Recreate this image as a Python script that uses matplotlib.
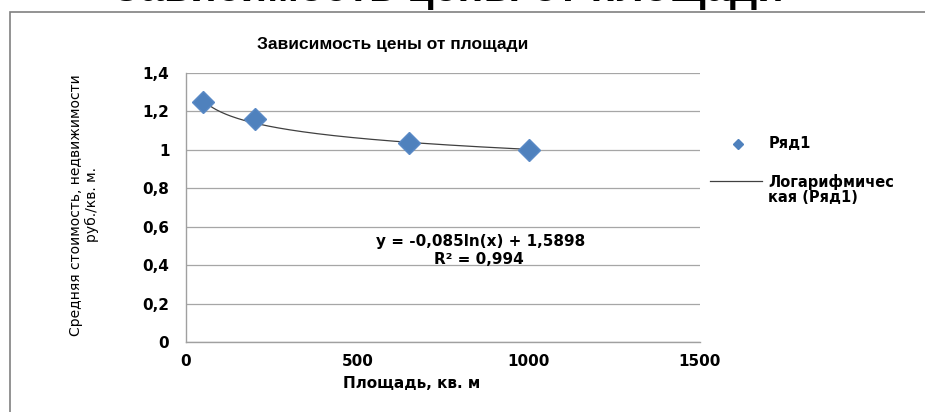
import matplotlib
matplotlib.use("Agg")
import matplotlib.pyplot as plt
import numpy as np
from matplotlib.lines import Line2D
from matplotlib.patches import Rectangle

# average price per square metre vs. area
area = [50, 200, 650, 1000]
price = [1.25, 1.16, 1.035, 1.0]

# logarithmic trend coefficients
slope = -0.085
intercept = 1.5898
r2 = 0.994

x_ticks = [0, 500, 1000, 1500]
y_ticks = [0, 0.2, 0.4, 0.6, 0.8, 1.0, 1.2, 1.4]
y_tick_labels = ["0", "0,2", "0,4", "0,6", "0,8", "1", "1,2", "1,4"]

blue = "#4F81BD"
W, H = 925, 412

fig = plt.figure(figsize=(W / 100, H / 100), dpi=100)
fig.patch.set_facecolor("white")

# chart frame
fig.patches.append(Rectangle((10 / W, -0.05), 1.0, (H - 12) / H + 0.05,
                             transform=fig.transFigure, fill=False,
                             edgecolor="#808080", lw=1.2))

# heading of the page above the chart, mostly cut off
fig.text(448 / W, 1 - 1 / H, "Зависимость цены от площади", ha="center",
         va="baseline", fontsize=31, fontweight="bold", family="Liberation Sans")

ax = fig.add_axes([186 / W, 1 - 342 / H, (700 - 186) / W, (342 - 73) / H])
ax.set_xlim(0, 1500)
ax.set_ylim(0, 1.4)

for s in ["top", "right"]:
    ax.spines[s].set_visible(False)
for s in ["left", "bottom"]:
    ax.spines[s].set_color("#A0A0A0")
    ax.spines[s].set_linewidth(1.0)

ax.set_yticks(y_ticks)
ax.set_yticklabels(y_tick_labels)
ax.set_xticks(x_ticks)
ax.tick_params(length=0, labelsize=11)
ax.tick_params(axis="x", pad=9)
ax.tick_params(axis="y", pad=12)
for lab in ax.get_xticklabels() + ax.get_yticklabels():
    lab.set_fontweight("bold")
    lab.set_family("DejaVu Sans")
ax.grid(axis="y", color="#A6A6A6", lw=0.9)
ax.set_axisbelow(True)

# fitted logarithmic curve over the data range
xs = np.linspace(min(area), max(area), 200)
ax.plot(xs, slope * np.log(xs) + intercept, color="#404040", lw=0.9, zorder=2)
ax.plot(area, price, ls="none", marker="D", ms=11, color=blue,
        markeredgecolor="#5A8AC6", zorder=3)

eq = f"y = {slope:.3f}ln(x) + {intercept:.4f}".replace(".", ",")
fig.text(481 / W, 1 - 242 / H, eq, ha="center", va="center",
         fontsize=11, fontweight="bold", family="DejaVu Sans")
fig.text(479 / W, 1 - 259 / H, f"R² = {r2:.3f}".replace(".", ","),
         ha="center", va="center", fontsize=11, fontweight="bold",
         family="DejaVu Sans")

fig.text(393 / W, 1 - 45 / H, "Зависимость цены от площади", ha="center",
         va="center", fontsize=12.5, fontweight="bold", family="Liberation Sans")
fig.text(412 / W, 1 - 384 / H, "Площадь, кв. м", ha="center", va="center",
         fontsize=11, fontweight="bold", family="DejaVu Sans")
fig.text(84 / W, 1 - 205 / H, "Средняя стоимость, недвижимости\nруб./кв. м.",
         ha="center", va="center", rotation=90, fontsize=10,
         family="DejaVu Sans", linespacing=1.15)

# legend
fig.add_artist(Line2D([738 / W], [1 - 144 / H], marker="D", ms=5, color=blue,
                      transform=fig.transFigure))
fig.text(769 / W, 1 - 144 / H, "Ряд1", va="center", fontsize=10.5,
         fontweight="bold", family="DejaVu Sans")
fig.add_artist(Line2D([710 / W, 762 / W], [1 - 181 / H, 1 - 181 / H],
                      color="#404040", lw=0.9, transform=fig.transFigure))
fig.text(768 / W, 1 - 189 / H, "Логарифмичес\nкая (Ряд1)", va="center",
         fontsize=10.5, fontweight="bold", family="DejaVu Sans",
         linespacing=1.0)

fig.savefig("out.png", dpi=100)
